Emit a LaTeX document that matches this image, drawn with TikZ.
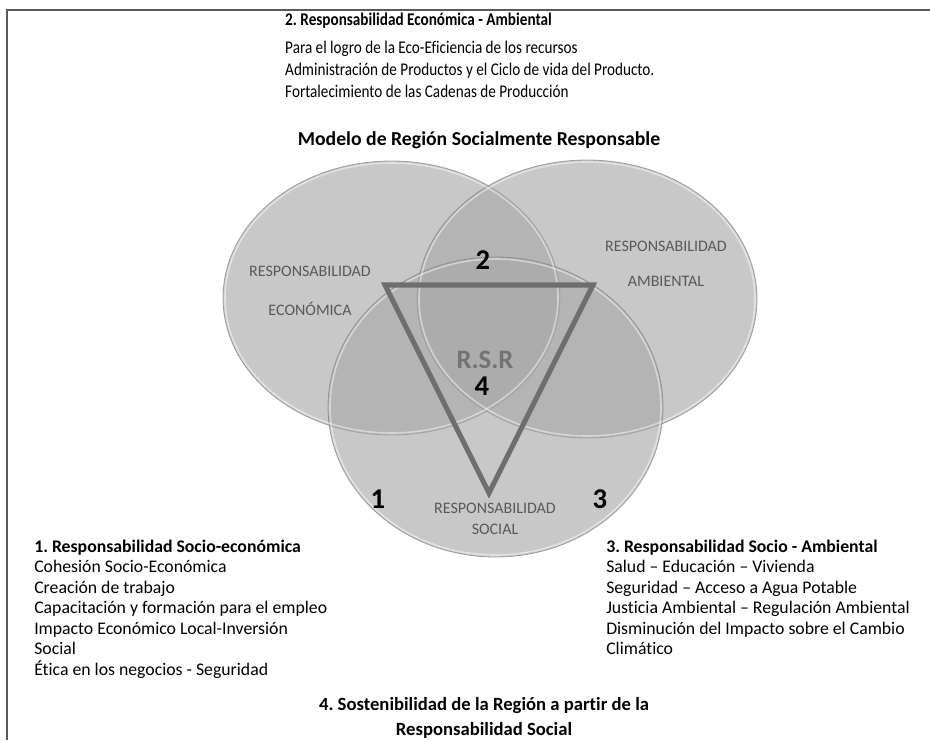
\documentclass[tikz,border=0pt]{standalone}
\usepackage{fontspec}
\setmainfont{Carlito}[Ligatures=NoCommon]
\frenchspacing
\begin{document}
\begin{tikzpicture}[x=0.75pt,y=-0.75pt]
\useasboundingbox (0,0) rectangle (930,740);
\tikzset{
  venn/.style={fill=black!34, fill opacity=0.635, draw=black!50, draw opacity=0.7, line width=0.6pt},
  rim/.style={draw=white, draw opacity=0.45, line width=1.2pt},
  lab/.style={text=black!65, font=\fontsize{12}{14}\selectfont, inner sep=0pt},
  num/.style={font=\fontsize{21.5}{25}\selectfont\bfseries, inner sep=0pt},
  rsr/.style={text=black!55, font=\fontsize{20}{24}\selectfont\bfseries, inner sep=0pt},
  bodyline/.style={anchor=base west, inner sep=0pt, font=\fontsize{13.3}{16}\selectfont},
  bodybold/.style={bodyline, font=\fontsize{13.3}{16}\selectfont\bfseries},
  topline/.style={anchor=base west, inner sep=0pt, font=\fontsize{13.4}{16}\selectfont, xscale=0.85},
  topbold/.style={topline, font=\fontsize{13.4}{16}\selectfont\bfseries},
  titlec/.style={anchor=base, inner sep=0pt, font=\fontsize{14}{17}\selectfont\bfseries},
  framebar/.style={draw=black!65, line width=1.5pt},
  tri/.style={draw=black!57, line width=3.8pt, line join=miter},
}
% frame
\coordinate (fTL) at (7,10);
\coordinate (fTR) at (930,10);
\coordinate (fBL) at (7,740);
\draw[framebar] (fBL) -- (fTL) -- (fTR);

% top block
\node[topbold] (t0) at (285,25) {2. Responsabilidad Económica - Ambiental};
\node[topline] (t1) at (285,53) {Para el logro de la Eco-Eficiencia de los recursos};
\node[topline] (t2) at (285,75) {Administración de Productos y el Ciclo de vida del Producto.};
\node[topline] (t3) at (285,97) {Fortalecimiento de las Cadenas de Producción};

\node[titlec, font=\fontsize{14.8}{18}\selectfont\bfseries] (title) at (479,145) {Modelo de Región Socialmente Responsable};

% ellipses
\draw[venn] (391.5,298) ellipse [x radius=168.5, y radius=137];
\draw[venn] (587,299) ellipse [x radius=170, y radius=139];
\draw[venn] (495.5,407) ellipse [x radius=167.5, y radius=150];
\draw[rim] (391.5,298) ellipse [x radius=166.5, y radius=135];
\draw[rim] (587,299) ellipse [x radius=168, y radius=137];
\draw[rim] (495.5,407) ellipse [x radius=165.5, y radius=148];

% ellipse labels
\node[lab] (eR) at (310,271) {RESPONSABILIDAD};
\node[lab] (eE) at (310,309) {ECONÓMICA};
\node[lab] (aR) at (666,246) {RESPONSABILIDAD};
\node[lab] (aA) at (666,281) {AMBIENTAL};
\node[lab] (sR) at (495,508) {RESPONSABILIDAD};
\node[lab] (sS) at (495,529) {SOCIAL};

% triangle
\coordinate (v1) at (385,285);
\coordinate (v2) at (593,285);
\coordinate (v3) at (489,493);
\draw[tri] (v1) -- (v2) -- (v3) -- cycle;

\node[num] (n2) at (483,260) {2};
\node[rsr] (rsr) at (485,360) {R.S.R};
\node[num] (n4) at (482,386) {4};
\node[num] (n1) at (378,499) {1};
\node[num] (n3) at (600,499) {3};

% left block
\node[bodybold] (l0) at (34,552) {1. Responsabilidad Socio-económica};
\node[bodyline] (l1) at (34,572.5) {Cohesión Socio-Económica};
\node[bodyline] (l2) at (34,593) {Creación de trabajo};
\node[bodyline] (l3) at (34,613.5) {Capacitación y formación para el empleo};
\node[bodyline] (l4) at (34,634) {Impacto Económico Local-Inversión};
\node[bodyline] (l5) at (34,654.5) {Social};
\node[bodyline] (l6) at (34,675) {Ética en los negocios - Seguridad};

% right block
\node[bodybold] (r0) at (606,552) {3. Responsabilidad Socio - Ambiental};
\node[bodyline] (r1) at (606,572.5) {Salud – Educación – Vivienda};
\node[bodyline] (r2) at (606,593) {Seguridad – Acceso a Agua Potable};
\node[bodyline] (r3) at (606,613.5) {Justicia Ambiental – Regulación Ambiental};
\node[bodyline] (r4) at (606,634) {Disminución del Impacto sobre el Cambio};
\node[bodyline] (r5) at (606,654.5) {Climático};

% bottom
\node[titlec] (b1) at (484,710) {4. Sostenibilidad de la Región a partir de la};
\node[titlec] (b2) at (484,735.5) {Responsabilidad Social};
\end{tikzpicture}
\end{document}
